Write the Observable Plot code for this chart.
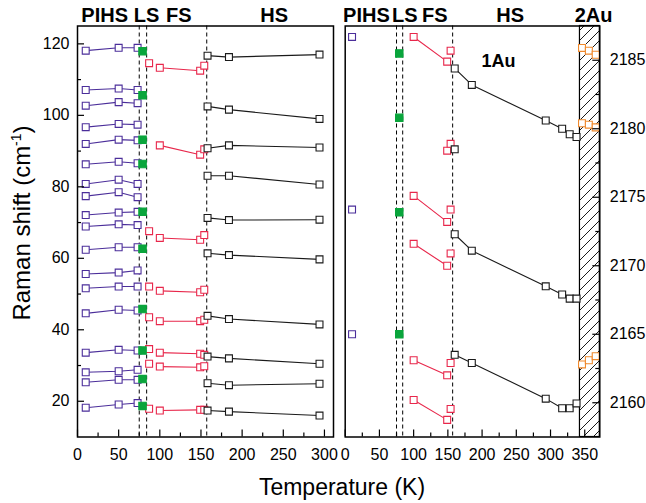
<!DOCTYPE html>
<html><head><meta charset="utf-8">
<script src="https://cdn.jsdelivr.net/npm/d3@7"></script>
<script src="https://cdn.jsdelivr.net/npm/@observablehq/plot@0.6"></script>
<style>
body{margin:0;background:#fff;}
#chart{position:relative;width:646px;height:503px;}
#chart > svg{position:absolute;top:0;overflow:visible;}
</style></head><body><div id="chart"></div>
<script>
// ---------- data: left panel (low-frequency modes, cm^-1) ----------
const tPIHS_L = [10, 50, 73];
const purpleL = [
  [118.1,118.9,118.9],[107.1,107.5,107.1],[102.7,103.7,103.4],[96.7,97.6,97.4],
  [92.0,93.2,93.0],[86.3,87.0,86.6],[80.8,82.0,80.8],[77.4,78.5,77.1],
  [72.1,72.8,73.0],[68.9,69.5,69.3],[62.4,63.1,63.1],[55.6,56.0,56.6],
  [51.6,52.1,52.1],[44.6,45.6,45.4],[33.6,34.4,34.2],[28.1,28.4,28.8],
  [25.3,26.0,26.0],[18.2,19.1,19.5]
];
const tLS_L = 79;
const greenL = [117.95,105.6,93.2,86.4,73.0,62.7,45.8,34.2,26.2,18.7];
const tFS_L = [87, 100, 149, 154];
const redL = [
  [114.6,113.3,112.5,113.9],[null,91.6,89.0,90.5],[67.6,65.7,65.2,66.5],
  [52.1,50.9,50.5,51.2],[43.5,42.4,42.4,42.8],[34.6,33.6,33.3,33.0],
  [30.5,29.7,29.5,29.8],[17.9,17.4,17.6,17.6]
];
const tHS_L = [158, 184, 294];
const blackL = [
  [116.7,116.3,117.0],[102.5,101.6,99.0],[90.8,91.6,91.0],[83.1,83.1,80.65],
  [71.3,70.7,70.8],[61.4,60.9,59.7],[43.9,43.0,41.5],[32.5,32.0,30.5],
  [25.05,24.5,24.9],[17.4,17.1,16.0]
];
// ---------- data: right panel (CN stretching, cm^-1) ----------
const tPIHS_R = 10;
const purpleR = [2186.7, 2174.1, 2165.0];
const tLS_R = 79;
const greenR = [2185.5, 2180.8, 2173.9, 2165.0];
const tFS_R = [100, 149, 154];
const redR = [
  [2186.7,2184.9,2185.7],[null,2178.4,2178.9],[2175.1,2173.2,2174.1],
  [2171.6,2170.0,2170.9],[2163.1,2162.0,2162.9],[2160.2,2158.75,2159.55]
];
const tHS_R = [160, 185, 293, 317, 328, 338];
const blackR = [
  [2184.4,2183.2,2180.6,2180.0,2179.6,2179.4],
  [2178.5,null,null,null,null,null],
  [2172.3,2171.1,2168.5,2167.9,2167.6,2167.6],
  [2163.5,2162.9,2160.3,2159.6,2159.6,2159.95]
];
const t2Au = [346, 356, 366];
const orangeR = [[2185.9,2185.7,2185.4],[2180.4,2180.3,2180.1],[2162.8,2163.1,2163.4]];
const hatchRange = [343, 372];
// phase boundaries (K)
const boundaries = [75, 84, 157];
// ticks / labels
const xTicksL = [0,50,100,150,200,250,300];
const xMinorL = [25,75,125,175,225,275];
const yTicksL = [20,40,60,80,100,120];
const yMinorL = [30,50,70,90,110];
const xTicksR = [0,50,100,150,200,250,300,350];
const xMinorR = [25,75,125,175,225,275,325];
const yTicksR = [2160,2165,2170,2175,2180,2185];
const yMinorR = [2162.5,2167.5,2172.5,2177.5,2182.5];
const phaseNames = ["PIHS","LS","FS","HS"];
const phaseTempL = [33, 84, 123, 239];
const phaseTempR = [31, 87, 131, 241, 363];
const phaseNamesR = ["PIHS","LS","FS","HS","2Au"];
const note1Au = {t: 224, v: 2184.9, text: "1Au"};
const xTitle = "Temperature (K)";
const yTitle = "Raman shift (cm";

const FONT = '"Liberation Sans", Arial, Helvetica, sans-serif';
const PURPLE = "#4b2e9a", RED = "#e8274b", GREEN = "#0aa53c", BLACK = "#1a1a1a", ORANGE = "#f08a2e";
const H = 503, MT = 25.5, MB = 66.5, FH = H - MT - MB;

function tidy(rows, temps) {
  return rows.flatMap((r, i) => r.map((v, j) => ({T: temps[j], v, s: i}))).filter(d => d.v != null);
}
const sq = (data, color, filled) => Plot.dot(data, {x: "T", y: "v", symbol: "square", r: filled ? 4.2 : 3.9,
  stroke: color, strokeWidth: 1.1, fill: filled ? color : "white"});
const ln = (data, color) => Plot.line(data, {x: "T", y: "v", z: "s", stroke: color, strokeWidth: 1.1});

// ---------- left panel ----------
const WL = 340, MLl = 77, MRl = 7, FWl = WL - MLl - MRl;
const pL = tidy(purpleL, tPIHS_L);
const gL = greenL.map((v, i) => ({T: tLS_L, v, s: i}));
const rL = tidy(redL, tFS_L);
const bL = tidy(blackL, tHS_L);
const left = Plot.plot({
  width: WL, height: H, marginLeft: MLl, marginRight: MRl, marginTop: MT, marginBottom: MB,
  style: {fontFamily: FONT, fontSize: "16px", color: "#000", background: "transparent", overflow: "visible"},
  x: {domain: [0, 311]},
  y: {domain: [10, 125]},
  marks: [
    Plot.ruleX(boundaries, {stroke: "#000", strokeWidth: 1, strokeDasharray: "4,3"}),
    ln(pL, PURPLE),
    ln(rL.filter(d => d.T === 100 || d.T === 149), RED),
    ln(bL, BLACK),
    sq(pL, PURPLE), sq(rL, RED), sq(bL, BLACK), sq(gL, GREEN, true),
    Plot.tickX(xTicksL, {x: d => d, insetTop: FH - 7, stroke: "#000", strokeWidth: 1.2}),
    Plot.tickX(xMinorL, {x: d => d, insetTop: FH - 4, stroke: "#000", strokeWidth: 1.2}),
    Plot.tickY(yTicksL, {y: d => d, insetRight: FWl - 7, stroke: "#000", strokeWidth: 1.2}),
    Plot.tickY(yMinorL, {y: d => d, insetRight: FWl - 4, stroke: "#000", strokeWidth: 1.2}),
    Plot.axisX(xTicksL, {tickSize: 0, tickPadding: 12, label: null, tickFormat: "d"}),
    Plot.axisY(yTicksL, {tickSize: 0, tickPadding: 8, label: null, tickFormat: "d"}),
    Plot.frame({stroke: "#000", strokeWidth: 1.5}),
    Plot.text(phaseNames, {x: (d, i) => phaseTempL[i], text: d => d, frameAnchor: "top", lineAnchor: "bottom",
      dy: -4, fontWeight: "bold", fontSize: 20})
  ]
});
left.style.left = "0px";

// ---------- right panel ----------
const WR = 306, MLr = 4.7, MRr = 46.7, FWr = WR - MLr - MRr;
const pR = purpleR.map((v, i) => ({T: tPIHS_R, v, s: i}));
const gR = greenR.map((v, i) => ({T: tLS_R, v, s: i}));
const rR = tidy(redR, tFS_R);
const bR = tidy(blackR, tHS_R);
const oR = tidy(orangeR, t2Au);
const right = Plot.plot({
  width: WR, height: H, marginLeft: MLr, marginRight: MRr, marginTop: MT, marginBottom: MB,
  style: {fontFamily: FONT, fontSize: "16px", color: "#000", background: "transparent", overflow: "visible"},
  x: {domain: [0, 372]},
  y: {domain: [2157.5, 2187.5]},
  marks: [
    Plot.rect([hatchRange], {x1: d => d[0], x2: d => d[1], fill: "url(#hatch)", stroke: "#000", strokeWidth: 1.2}),
    Plot.ruleX(boundaries, {stroke: "#000", strokeWidth: 1, strokeDasharray: "4,3"}),
    ln(rR.filter(d => d.T === 100 || d.T === 149), RED),
    ln(bR, BLACK),
    sq(pR, PURPLE), sq(rR, RED), sq(bR, BLACK), sq(oR, ORANGE), sq(gR, GREEN, true),
    Plot.tickX(xTicksR, {x: d => d, insetTop: FH - 7, stroke: "#000", strokeWidth: 1.2}),
    Plot.tickX(xMinorR, {x: d => d, insetTop: FH - 4, stroke: "#000", strokeWidth: 1.2}),
    Plot.tickY(yTicksR, {y: d => d, insetLeft: FWr - 7, stroke: "#000", strokeWidth: 1.2}),
    Plot.tickY(yMinorR, {y: d => d, insetLeft: FWr - 4, stroke: "#000", strokeWidth: 1.2}),
    Plot.axisX(xTicksR, {tickSize: 0, tickPadding: 12, label: null, tickFormat: "d"}),
    Plot.axisY(yTicksR, {anchor: "right", tickSize: 0, tickPadding: 10, label: null, tickFormat: "d"}),
    Plot.frame({stroke: "#000", strokeWidth: 1.5}),
    Plot.text(phaseNamesR, {x: (d, i) => phaseTempR[i], text: d => d, frameAnchor: "top", lineAnchor: "bottom",
      dy: -4, fontWeight: "bold", fontSize: 20}),
    Plot.text([note1Au], {x: "t", y: "v", text: "text", fontWeight: "bold", fontSize: 18})
  ]
});
right.style.left = "340px";
const defs = d3.select(right).insert("defs", ":first-child");
const pat = defs.append("pattern").attr("id", "hatch").attr("patternUnits", "userSpaceOnUse")
  .attr("width", 10).attr("height", 10);
pat.append("rect").attr("width", 10).attr("height", 10).attr("fill", "white");
pat.append("path").attr("d", "M-2,2 l4,-4 M0,10 l10,-10 M8,12 l4,-4").attr("stroke", "#000").attr("stroke-width", 0.9);

const chart = document.getElementById("chart");
chart.appendChild(left);
chart.appendChild(right);

// ---------- axis titles ----------
const ov = d3.select(chart).append("svg").attr("width", 646).attr("height", 503)
  .style("left", "0px").style("pointer-events", "none");
const yt = ov.append("text").attr("transform", "translate(30,223) rotate(-90)")
  .attr("text-anchor", "middle").style("font-family", FONT).style("font-size", "24px").attr("fill", "#000");
yt.append("tspan").text(yTitle);
yt.append("tspan").attr("dy", -9).style("font-size", "14px").text("-1");
yt.append("tspan").attr("dy", 9).text(")");
ov.append("text").attr("x", 342).attr("y", 495).attr("text-anchor", "middle")
  .style("font-family", FONT).style("font-size", "23px").attr("fill", "#000").text(xTitle);
</script></body></html>
